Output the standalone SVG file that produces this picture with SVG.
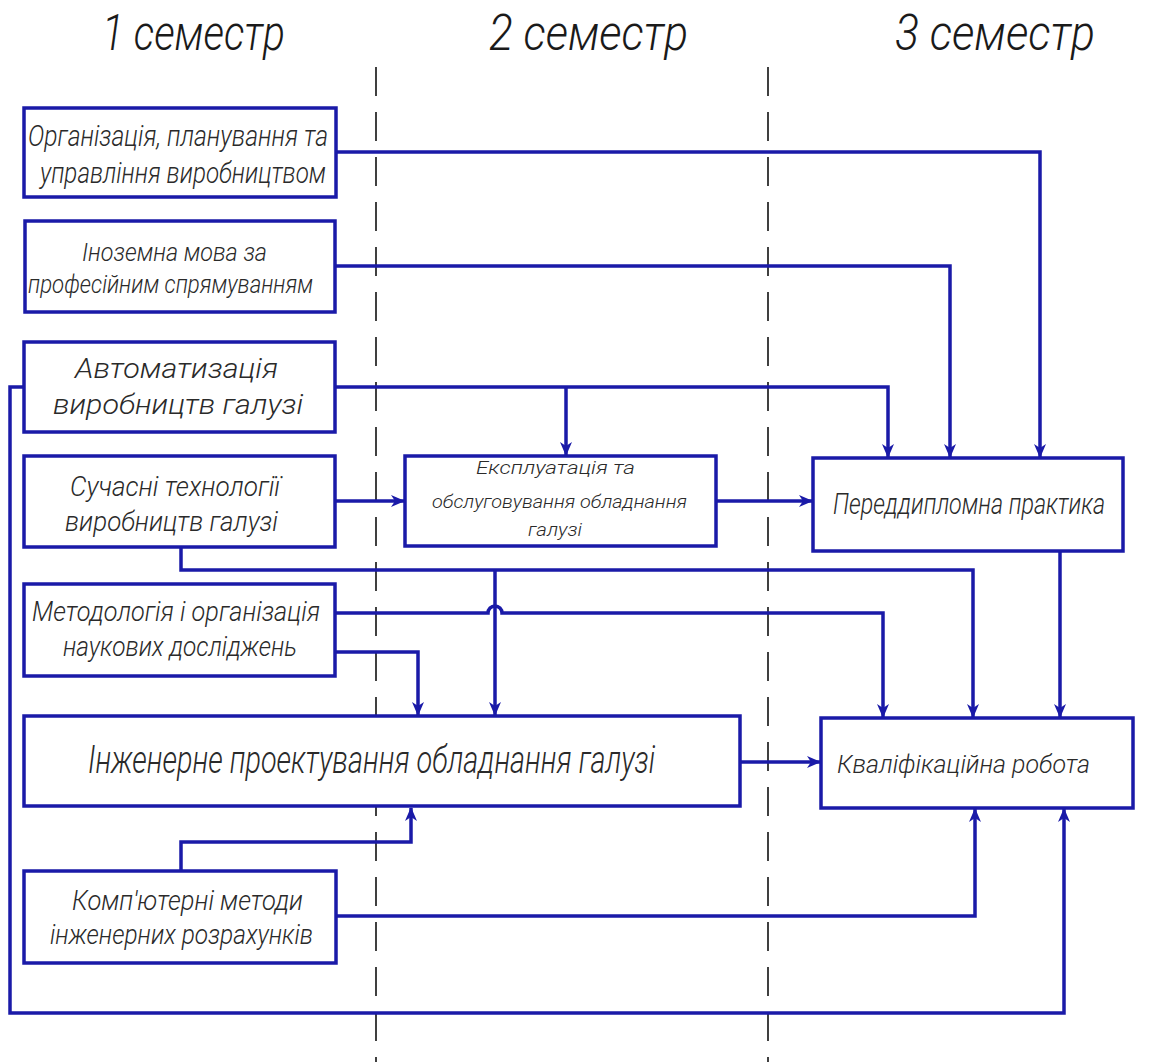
<svg xmlns="http://www.w3.org/2000/svg" width="1174" height="1062" viewBox="0 0 1174 1062">
<defs>
<style>
.box{fill:#fff;stroke:#1a1aa8;stroke-width:3.5}
.ln{fill:none;stroke:#1a1aa8;stroke-width:3.5}
.axis{fill:none;stroke:#111;stroke-width:1.6;stroke-dasharray:29 16}
.t{font-family:Roboto,"Liberation Sans","DejaVu Sans",sans-serif;font-style:italic;font-weight:300;fill:#2a2a2a}
.h{font-family:Roboto,"Liberation Sans","DejaVu Sans",sans-serif;font-style:italic;font-weight:300;fill:#1a1a1a;font-size:50px}
</style>
<marker id="arr" viewBox="0 0 14 12" refX="13" refY="6" markerWidth="14" markerHeight="12" markerUnits="userSpaceOnUse" orient="auto">
<path d="M0,0 L14,6 L0,12 L4,6 z" fill="#1a1aa8"/>
</marker>
</defs>
<rect width="1174" height="1062" fill="#fff"/>
<g id="headers">
<text class="h" x="102" y="50" textLength="183" lengthAdjust="spacingAndGlyphs">1 семестр</text>
<text class="h" x="489" y="50" textLength="199" lengthAdjust="spacingAndGlyphs">2 семестр</text>
<text class="h" x="895" y="50" textLength="200" lengthAdjust="spacingAndGlyphs">3 семестр</text>
</g>
<g id="axes">
<line class="axis" x1="376" y1="67" x2="376" y2="1062"/>
<line class="axis" x1="768" y1="67" x2="768" y2="1062"/>
</g>
<g id="connectors">
<path class="ln" d="M336,152 H1040 V457" marker-end="url(#arr)"/>
<path class="ln" d="M335,266 H950 V457" marker-end="url(#arr)"/>
<path class="ln" d="M335,387 H888 V457" marker-end="url(#arr)"/>
<path class="ln" d="M566,387 V455" marker-end="url(#arr)"/>
<path class="ln" d="M24,387 H10 V1013 H1064 V809" marker-end="url(#arr)"/>
<path class="ln" d="M335,501 H404" marker-end="url(#arr)"/>
<path class="ln" d="M716,501 H812" marker-end="url(#arr)"/>
<path class="ln" d="M181,547 V570 H973 V717" marker-end="url(#arr)"/>
<path class="ln" d="M495,570 V715" marker-end="url(#arr)"/>
<path class="ln" d="M335,613 H488 A7,7 0 0 1 502,613 H883 V717" marker-end="url(#arr)"/>
<path class="ln" d="M335,652 H418 V715" marker-end="url(#arr)"/>
<path class="ln" d="M1060,551 V717" marker-end="url(#arr)"/>
<path class="ln" d="M740,762 H820" marker-end="url(#arr)"/>
<path class="ln" d="M181,871 V842 H411 V808" marker-end="url(#arr)"/>
<path class="ln" d="M336,916 H975 V809" marker-end="url(#arr)"/>
</g>
<g id="n1">
<rect class="box" x="24" y="108" width="312" height="89"/>
<text class="t" x="28" y="146" font-size="29" textLength="300" lengthAdjust="spacingAndGlyphs">Організація, планування та</text>
<text class="t" x="40" y="183" font-size="29" textLength="286" lengthAdjust="spacingAndGlyphs">управління виробництвом</text>
</g>
<g id="n2">
<rect class="box" x="25" y="221" width="310" height="91"/>
<text class="t" x="82" y="261" font-size="25" textLength="185" lengthAdjust="spacingAndGlyphs">Іноземна мова за</text>
<text class="t" x="28" y="293" font-size="25" textLength="285" lengthAdjust="spacingAndGlyphs">професійним спрямуванням</text>
</g>
<g id="n3">
<rect class="box" x="24" y="342" width="311" height="90"/>
<text class="t" x="75" y="378" font-size="28" textLength="203" lengthAdjust="spacingAndGlyphs">Автоматизація</text>
<text class="t" x="53" y="414" font-size="28" textLength="250" lengthAdjust="spacingAndGlyphs">виробництв галузі</text>
</g>
<g id="n4">
<rect class="box" x="24" y="456" width="311" height="91"/>
<text class="t" x="70" y="496" font-size="28" textLength="210" lengthAdjust="spacingAndGlyphs">Сучасні технології</text>
<text class="t" x="65" y="531" font-size="28" textLength="213" lengthAdjust="spacingAndGlyphs">виробництв галузі</text>
</g>
<g id="n5">
<rect class="box" x="24" y="584" width="311" height="92"/>
<text class="t" x="32" y="621" font-size="28" textLength="288" lengthAdjust="spacingAndGlyphs">Методологія і організація</text>
<text class="t" x="63" y="656" font-size="28" textLength="234" lengthAdjust="spacingAndGlyphs">наукових досліджень</text>
</g>
<g id="n6">
<rect class="box" x="24" y="716" width="716" height="90"/>
<text class="t" x="88" y="773" font-size="38" textLength="567" lengthAdjust="spacingAndGlyphs">Інженерне проектування обладнання галузі</text>
</g>
<g id="n7">
<rect class="box" x="24" y="871" width="312" height="92"/>
<text class="t" x="72" y="910" font-size="28" textLength="231" lengthAdjust="spacingAndGlyphs">Комп'ютерні методи</text>
<text class="t" x="50" y="944" font-size="28" textLength="263" lengthAdjust="spacingAndGlyphs">інженерних розрахунків</text>
</g>
<g id="n8">
<rect class="box" x="405" y="456" width="311" height="90"/>
<text class="t" x="476" y="474" font-size="19" textLength="159" lengthAdjust="spacingAndGlyphs">Експлуатація та</text>
<text class="t" x="432" y="508" font-size="19" textLength="255" lengthAdjust="spacingAndGlyphs">обслуговування обладнання</text>
<text class="t" x="528" y="536" font-size="19" textLength="54" lengthAdjust="spacingAndGlyphs">галузі</text>
</g>
<g id="n9">
<rect class="box" x="813" y="458" width="310" height="93"/>
<text class="t" x="833" y="514" font-size="29" textLength="272" lengthAdjust="spacingAndGlyphs">Переддипломна практика</text>
</g>
<g id="n10">
<rect class="box" x="821" y="718" width="312" height="90"/>
<text class="t" x="837" y="773" font-size="25" textLength="253" lengthAdjust="spacingAndGlyphs">Кваліфікаційна робота</text>
</g>
</svg>
